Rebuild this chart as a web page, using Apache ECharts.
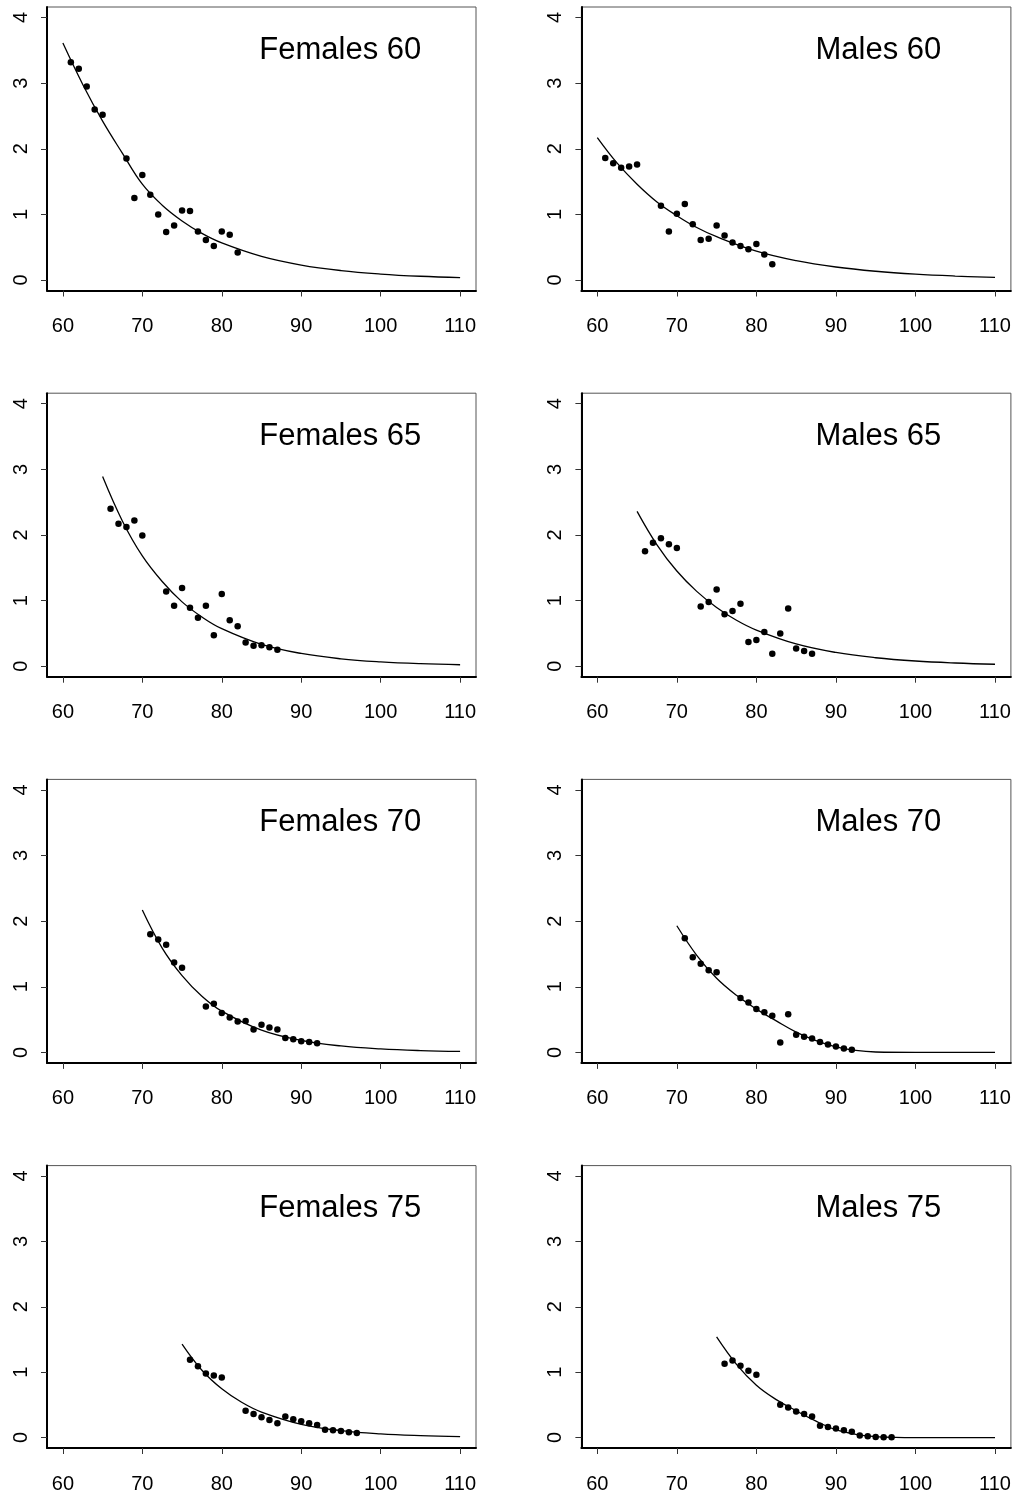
<!DOCTYPE html>
<html>
<head>
<meta charset="utf-8">
<script src="https://cdn.jsdelivr.net/npm/echarts@6/dist/echarts.min.js"></script>
<style>
  html, body { margin: 0; padding: 0; background: #ffffff; }
  #chart { width: 1016px; height: 1494px; }
</style>
</head>
<body>
<div id="chart"></div>
<script>
// Axis ticks shared by every panel
const xTicks = [60, 70, 80, 90, 100, 110];
const yTicks = [0, 1, 2, 3, 4];

const panelTitles = ['Females 60', 'Males 60', 'Females 65', 'Males 65',
                     'Females 70', 'Males 70', 'Females 75', 'Males 75'];

// Observed rates by age
const ages60 = [61, 62, 63, 64, 65, 68, 69, 70, 71, 72, 73, 74, 75, 76, 77, 78, 79, 80, 81, 82];
const ratesF60 = [3.32, 3.22, 2.95, 2.60, 2.52, 1.85, 1.25, 1.60, 1.30, 1.00, 0.73, 0.83, 1.06, 1.05, 0.74, 0.61, 0.52, 0.74, 0.69, 0.42];
const ratesM60 = [1.86, 1.78, 1.71, 1.73, 1.76, 1.13, 0.74, 1.01, 1.16, 0.85, 0.61, 0.63, 0.83, 0.68, 0.57, 0.52, 0.47, 0.55, 0.39, 0.24];

const ages65 = [66, 67, 68, 69, 70, 73, 74, 75, 76, 77, 78, 79, 80, 81, 82, 83, 84, 85, 86, 87];
const ratesF65 = [2.40, 2.17, 2.12, 2.22, 1.99, 1.14, 0.92, 1.19, 0.89, 0.74, 0.92, 0.47, 1.10, 0.70, 0.61, 0.36, 0.31, 0.32, 0.29, 0.25];
const ratesM65 = [1.75, 1.88, 1.95, 1.86, 1.80, 0.91, 0.98, 1.17, 0.79, 0.84, 0.95, 0.37, 0.40, 0.52, 0.19, 0.50, 0.88, 0.27, 0.23, 0.19];

const ages70 = [71, 72, 73, 74, 75, 78, 79, 80, 81, 82, 83, 84, 85, 86, 87, 88, 89, 90, 91, 92];
const ratesF70 = [1.80, 1.72, 1.64, 1.37, 1.29, 0.70, 0.74, 0.60, 0.53, 0.47, 0.48, 0.35, 0.42, 0.38, 0.35, 0.22, 0.20, 0.17, 0.16, 0.14];
const ratesM70 = [1.74, 1.45, 1.35, 1.25, 1.22, 0.83, 0.76, 0.66, 0.61, 0.56, 0.15, 0.58, 0.27, 0.24, 0.21, 0.16, 0.12, 0.09, 0.06, 0.04];

const ages75 = [76, 77, 78, 79, 80, 83, 84, 85, 86, 87, 88, 89, 90, 91, 92, 93, 94, 95, 96, 97];
const ratesF75 = [1.19, 1.09, 0.98, 0.95, 0.92, 0.41, 0.36, 0.31, 0.27, 0.22, 0.32, 0.28, 0.25, 0.22, 0.19, 0.12, 0.11, 0.10, 0.08, 0.07];
const ratesM75 = [1.13, 1.18, 1.10, 1.02, 0.96, 0.50, 0.46, 0.40, 0.36, 0.32, 0.18, 0.16, 0.14, 0.11, 0.09, 0.03, 0.02, 0.01, 0.005, 0.005];

// Fitted curves, sampled along age
const fitAgesF60 = [60, 62.5, 65, 67.5, 70, 72.5, 75, 77.5, 80, 85, 90, 95, 100, 105, 110];
const fitF60 = [3.61, 2.98, 2.42, 1.93, 1.46, 1.14, 0.90, 0.71, 0.565, 0.36, 0.228, 0.144, 0.091, 0.057, 0.036];
const fitAgesM60 = [60, 62.5, 65, 67.5, 70, 72.5, 75, 80, 85, 90, 95, 100, 105, 110];
const fitM60 = [2.17, 1.78, 1.46, 1.19, 0.98, 0.80, 0.66, 0.44, 0.295, 0.198, 0.133, 0.089, 0.060, 0.040];

const fitAgesF65 = [65, 67.5, 70, 72.5, 75, 77.5, 80, 85, 90, 95, 100, 105, 110];
const fitF65 = [2.89, 2.21, 1.68, 1.29, 0.98, 0.75, 0.572, 0.333, 0.194, 0.113, 0.066, 0.038, 0.022];
const fitAgesM65 = [65, 67.5, 70, 72.5, 75, 77.5, 80, 85, 90, 95, 100, 105, 110];
const fitM65 = [2.36, 1.85, 1.45, 1.14, 0.895, 0.70, 0.55, 0.339, 0.209, 0.129, 0.079, 0.049, 0.030];

const fitAgesF70 = [70, 72.5, 75, 77.5, 80, 85, 90, 95, 100, 105, 110];
const fitF70 = [2.17, 1.59, 1.17, 0.856, 0.628, 0.338, 0.182, 0.098, 0.053, 0.028, 0.015];
const fitAgesM70 = [70, 72.5, 75, 77.5, 80, 82.5, 85, 87.5, 90, 92.5, 95, 100, 105, 110];
const fitM70 = [1.93, 1.48, 1.13, 0.87, 0.66, 0.48, 0.31, 0.18, 0.085, 0.03, 0.006, 0, 0, 0];

const fitAgesF75 = [75, 77.5, 80, 82.5, 85, 90, 95, 100, 105, 110];
const fitF75 = [1.43, 1.03, 0.746, 0.54, 0.39, 0.203, 0.106, 0.055, 0.029, 0.015];
const fitAgesM75 = [75, 77.5, 80, 82.5, 85, 87.5, 90, 92.5, 95, 97.5, 100, 105, 110];
const fitM75 = [1.54, 1.12, 0.80, 0.58, 0.41, 0.25, 0.12, 0.05, 0.015, 0.003, 0, 0, 0];

const panels = [
  { ages: ages60, rates: ratesF60, fitAges: fitAgesF60, fit: fitF60 },
  { ages: ages60, rates: ratesM60, fitAges: fitAgesM60, fit: fitM60 },
  { ages: ages65, rates: ratesF65, fitAges: fitAgesF65, fit: fitF65 },
  { ages: ages65, rates: ratesM65, fitAges: fitAgesM65, fit: fitM65 },
  { ages: ages70, rates: ratesF70, fitAges: fitAgesF70, fit: fitF70 },
  { ages: ages70, rates: ratesM70, fitAges: fitAgesM70, fit: fitM70 },
  { ages: ages75, rates: ratesF75, fitAges: fitAgesF75, fit: fitF75 },
  { ages: ages75, rates: ratesM75, fitAges: fitAgesM75, fit: fitM75 }
];

// Page layout: two columns, four rows of boxed panels
const FONT = '"Liberation Sans", Arial, Helvetica, sans-serif';
const colLeft = [47, 581.4];
const colWidth = [429, 429.5];
const rowTop0 = 7;
const rowStep = 386.2;
const boxHeight = 283.5;
const titleLeft = [259.3, 815.5];
const titleTop0 = 34.5;

const zip = (xs, ys) => xs.map((x, i) => [x, ys[i]]);

const grid = [], xAxis = [], yAxis = [], series = [], title = [];
panels.forEach((p, i) => {
  const col = i % 2;
  const row = Math.floor(i / 2);
  grid.push({
    left: colLeft[col],
    top: rowTop0 + row * rowStep,
    width: colWidth[col],
    height: boxHeight,
    show: true,
    backgroundColor: 'transparent',
    borderColor: '#555',
    borderWidth: 1
  });
  xAxis.push({
    gridIndex: i,
    type: 'value',
    min: 58,
    max: 112,
    splitLine: { show: false },
    axisLine: { show: true, onZero: false, lineStyle: { color: '#000', width: 2 } },
    axisTick: { show: true, customValues: xTicks, length: 6, lineStyle: { color: '#333', width: 1 } },
    axisLabel: { customValues: xTicks, margin: 26, fontSize: 20, color: '#000', fontFamily: FONT }
  });
  yAxis.push({
    gridIndex: i,
    type: 'value',
    min: -0.16,
    max: 4.16,
    splitLine: { show: false },
    axisLine: { show: true, onZero: false, lineStyle: { color: '#000', width: 2 } },
    axisTick: { show: true, customValues: yTicks, length: 6, lineStyle: { color: '#333', width: 1 } },
    axisLabel: { customValues: yTicks, rotate: 90, margin: 16, fontSize: 20, color: '#000', fontFamily: FONT }
  });
  series.push({
    type: 'line',
    xAxisIndex: i,
    yAxisIndex: i,
    data: zip(p.fitAges, p.fit),
    showSymbol: false,
    smooth: 0.4,
    lineStyle: { color: '#000', width: 1.3 },
    z: 2
  });
  series.push({
    type: 'scatter',
    xAxisIndex: i,
    yAxisIndex: i,
    data: zip(p.ages, p.rates),
    symbol: 'circle',
    symbolSize: 6.5,
    itemStyle: { color: '#000', opacity: 1 },
    z: 3
  });
  title.push({
    text: panelTitles[i],
    left: titleLeft[col],
    top: titleTop0 + row * rowStep,
    padding: 0,
    textStyle: { fontSize: 31, fontWeight: 'normal', color: '#000', fontFamily: FONT }
  });
});

const chart = echarts.init(document.getElementById('chart'), null, { renderer: 'canvas' });
chart.setOption({
  animation: false,
  backgroundColor: '#ffffff',
  title,
  grid,
  xAxis,
  yAxis,
  series
});
</script>
</body>
</html>
